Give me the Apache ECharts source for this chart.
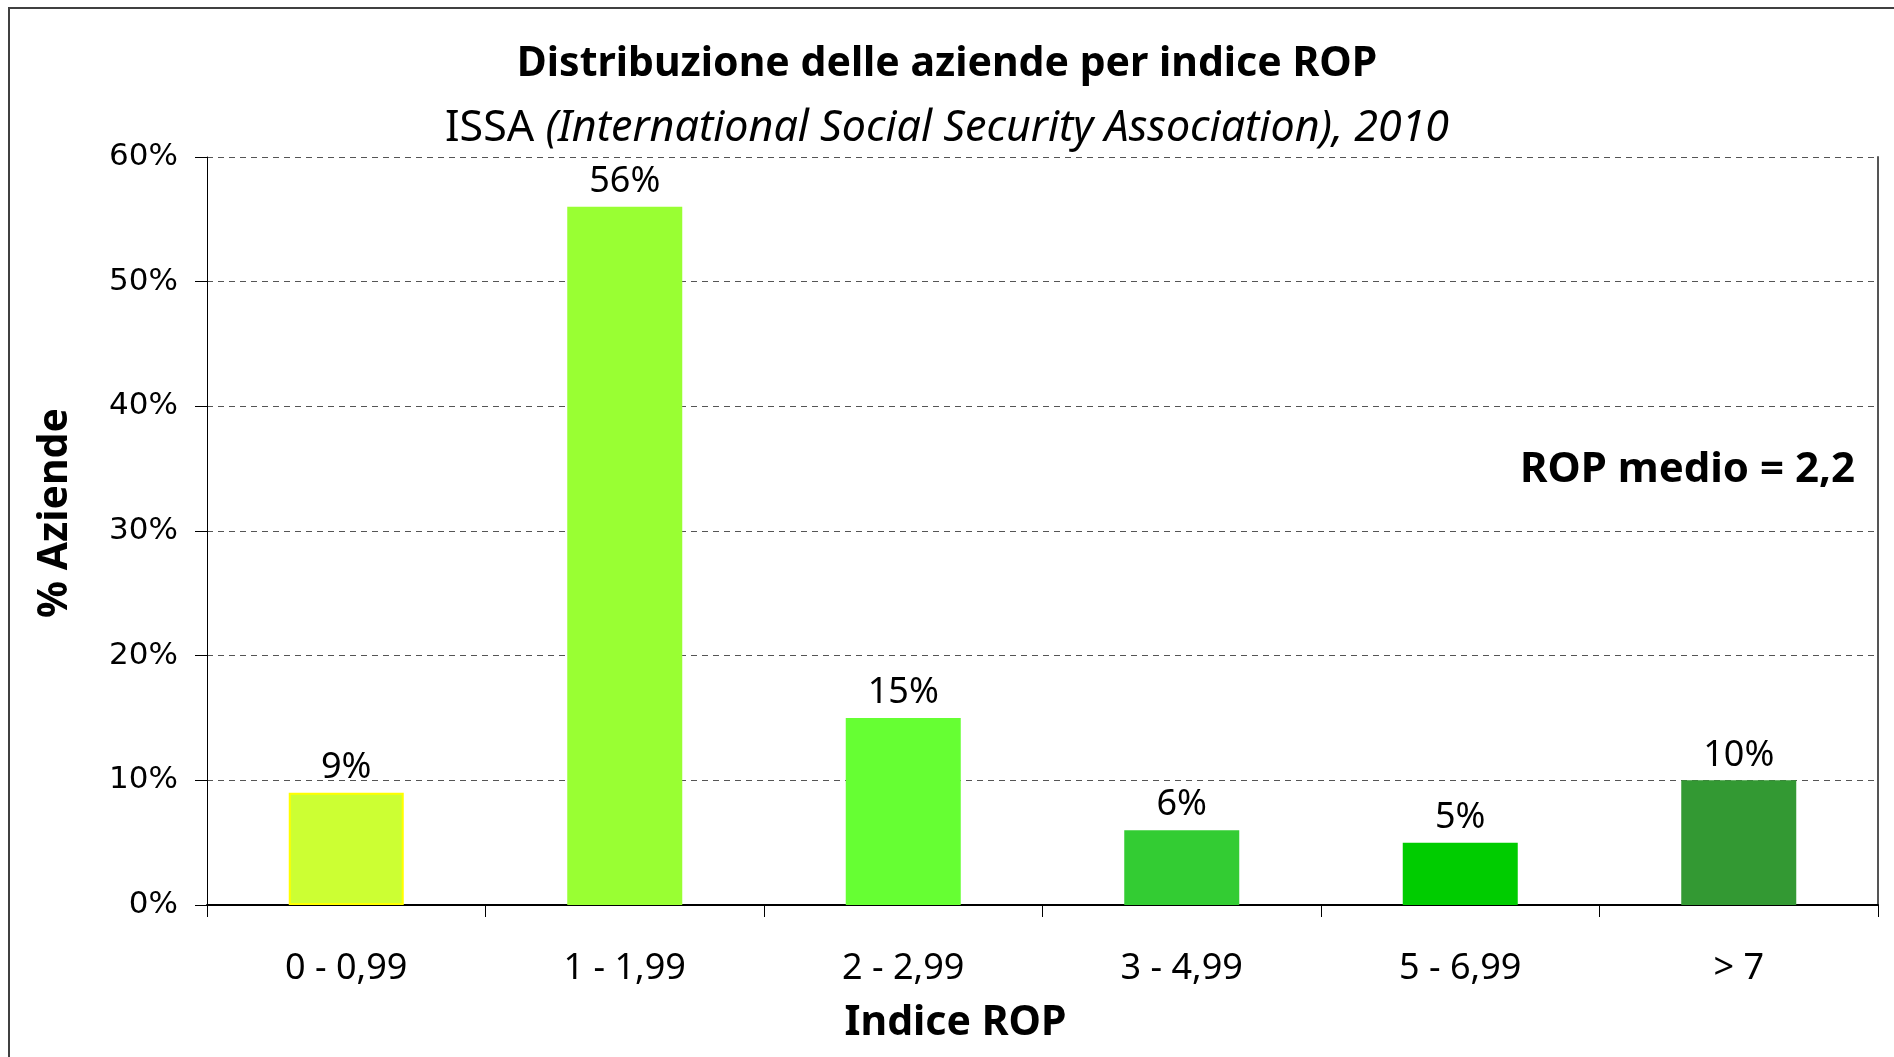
<!DOCTYPE html>
<html style="height: 100%">
<head>
    <meta charset="utf-8">
    <title>Distribuzione delle aziende per indice ROP</title>
</head>
<body style="height: 100%; margin: 0; background: #fff">
<div id="container" style="width: 1894px; height: 1057px"></div>
<script type="text/javascript" src="https://cdn.jsdelivr.net/npm/echarts@6/dist/echarts.min.js"></script>
<script type="text/javascript">
    // dati
    var categorie = ['0 - 0,99', '1 - 1,99', '2 - 2,99', '3 - 4,99', '5 - 6,99', '> 7'];
    var valori = [9, 56, 15, 6, 5, 10];
    var colori = ['#ccff33', '#99ff33', '#66ff33', '#33cc33', '#00cc00', '#339933'];
    var tickY = ['0%', '10%', '20%', '30%', '40%', '50%', '60%'];

    var font = 'Noto Sans';
    var dom = document.getElementById("container");
    var myChart = echarts.init(dom);

    var barData = valori.map(function (v, i) {
        var item = {value: v, itemStyle: {color: colori[i]}};
        if (i === 0) {
            item.itemStyle.borderColor = '#ffff00';
            item.itemStyle.borderWidth = 2;
        }
        return item;
    });

    var option = {
        backgroundColor: '#ffffff',
        animation: false,
        title: [{
            text: 'Distribuzione delle aziende per indice ROP',
            left: 'center',
            top: 39,
            textStyle: {fontFamily: font, fontSize: 41, fontWeight: 'bold', color: '#000'}
        }, {
            text: '{n|ISSA }{i|(International Social Security Association), 2010}',
            left: 'center',
            top: 102,
            textStyle: {
                fontWeight: 'normal',
                rich: {
                    n: {fontFamily: font, fontSize: 43, fontWeight: 'normal', color: '#000'},
                    i: {fontFamily: font, fontSize: 43, fontWeight: 'normal', fontStyle: 'italic', color: '#000'}
                }
            }
        }, {
            text: 'ROP medio = 2,2',
            right: 34,
            top: 444,
            textStyle: {fontFamily: font, fontSize: 42, fontWeight: 'bold', color: '#000'}
        }],
        graphic: [{
            type: 'rect',
            shape: {x: 9, y: 8, width: 1900, height: 1100},
            style: {fill: 'none', stroke: '#404040', lineWidth: 2},
            silent: true
        }],
        grid: {left: 207, right: 16, top: 157, bottom: 152},
        xAxis: {
            type: 'category',
            data: categorie,
            name: 'Indice ROP',
            nameLocation: 'middle',
            nameGap: 98,
            nameTextStyle: {fontFamily: font, fontSize: 41, fontWeight: 'bold', color: '#000', padding: [0, 174, 0, 0]},
            axisLine: {lineStyle: {color: '#000', width: 2}},
            axisTick: {show: true, length: 12, lineStyle: {color: '#000'}},
            axisLabel: {fontFamily: font, fontSize: 36, color: '#000', margin: 46},
            splitLine: {show: false}
        },
        yAxis: [{
            type: 'value',
            min: 0,
            max: 60,
            interval: 10,
            name: '% Aziende',
            nameLocation: 'middle',
            nameRotate: 90,
            nameGap: 131,
            nameTextStyle: {fontFamily: font, fontSize: 41, fontWeight: 'bold', color: '#000', padding: [0, 0, 0, 36]},
            axisLine: {show: true, lineStyle: {color: '#000', width: 1}},
            axisTick: {show: true, length: 12, lineStyle: {color: '#000'}},
            axisLabel: {
                fontFamily: 'DejaVu Sans', fontSize: 31, color: '#000', margin: 29,
                formatter: function (v) { return tickY[v / 10]; }
            },
            splitLine: {show: true, lineStyle: {color: '#555', width: 1, type: [6, 5]}}
        }, {
            type: 'value',
            min: 0,
            max: 60,
            interval: 10,
            position: 'right',
            axisLine: {show: true, lineStyle: {color: '#555', width: 2}},
            axisTick: {show: false},
            axisLabel: {show: false},
            splitLine: {show: false}
        }],
        series: [{
            name: '% Aziende',
            type: 'bar',
            yAxisIndex: 0,
            barWidth: 115,
            data: barData,
            label: {
                show: true,
                position: 'top',
                distance: 7,
                fontFamily: font,
                fontSize: 36,
                color: '#000',
                formatter: '{c}%'
            }
        }]
    };

    if (option && typeof option === "object") {
        myChart.setOption(option, true);
    }
</script>
</body>
</html>
